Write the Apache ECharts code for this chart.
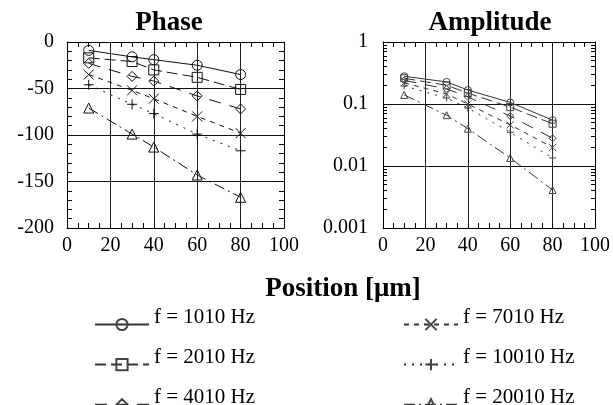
<!DOCTYPE html>
<html>
<head>
<meta charset="utf-8">
<script src="https://cdn.jsdelivr.net/npm/echarts@6/dist/echarts.min.js"></script>
<style>
  html, body { margin: 0; background: #fff; }
  #chart { width: 613px; height: 405px; }
</style>
</head>
<body>
<div id="chart"></div>
<script>
// measurement positions (µm)
const positions = [10, 30, 40, 60, 80];
const freqNames = ['f = 1010 Hz', 'f = 2010 Hz', 'f = 4010 Hz', 'f = 7010 Hz', 'f = 10010 Hz', 'f = 20010 Hz'];

// phase (deg), one list per frequency
const phase1010 = [-9, -16, -19, -25, -35];
const phase2010 = [-17, -21, -30, -38, -51];
const phase4010 = [-23, -37, -42, -58, -72];
const phase7010 = [-35, -52, -61, -80, -98];
const phase10010 = [-46, -67, -77, -99, -117];
const phase20010 = [-71, -99, -113, -143, -167];

// amplitude (normalised), one list per frequency
const amp1010 = [0.28, 0.227, 0.168, 0.106, 0.055];
const amp2010 = [0.26, 0.20, 0.15, 0.089, 0.048];
const amp4010 = [0.24, 0.175, 0.13, 0.064, 0.028];
const amp7010 = [0.22, 0.145, 0.10, 0.046, 0.020];
const amp10010 = [0.195, 0.125, 0.086, 0.035, 0.0135];
const amp20010 = [0.14, 0.066, 0.040, 0.0135, 0.0041];

const phaseTicks = [0, -50, -100, -150, -200];
const ampTicks = [1, 0.1, 0.01, 0.001];
const ampMinorTicks = [0.002, 0.003, 0.004, 0.005, 0.006, 0.007, 0.008, 0.009,
  0.02, 0.03, 0.04, 0.05, 0.06, 0.07, 0.08, 0.09,
  0.2, 0.3, 0.4, 0.5, 0.6, 0.7, 0.8, 0.9];

const phaseData = [phase1010, phase2010, phase4010, phase7010, phase10010, phase20010];
const ampData = [amp1010, amp2010, amp4010, amp7010, amp10010, amp20010];

const SERIF = "'Liberation Serif', 'DejaVu Serif', serif";
const CROSS = 'path://M0,0L10,10M10,0L0,10';
const PLUS = 'path://M5,0L5,10M0,5L10,5';
// marker + dash per frequency
const looks = [
  { symbol: 'circle', dash: 'solid' },
  { symbol: 'rect', dash: [11, 5] },
  { symbol: 'diamond', dash: [12, 9] },
  { symbol: CROSS, dash: [5, 5] },
  { symbol: PLUS, dash: [2, 6] },
  { symbol: 'triangle', dash: [11, 4, 2, 4] }
];

function pairs(ys) { return positions.map((x, i) => [x, ys[i]]); }

const series = [];
// amplitude first so the legend icons take its smaller markers
freqNames.forEach((name, k) => {
  series.push({
    name, type: 'line', xAxisIndex: 2, yAxisIndex: 2,
    data: pairs(ampData[k]),
    symbol: looks[k].symbol, symbolSize: 7, showSymbol: true,
    itemStyle: { color: 'transparent', borderColor: '#444', borderWidth: 1 },
    lineStyle: { color: '#333', width: 1, type: looks[k].dash },
    z: 3
  });
});
freqNames.forEach((name, k) => {
  series.push({
    name, type: 'line', xAxisIndex: 0, yAxisIndex: 0,
    data: pairs(phaseData[k]),
    symbol: looks[k].symbol, symbolSize: 10, showSymbol: true,
    itemStyle: { color: 'transparent', borderColor: '#111', borderWidth: 1 },
    lineStyle: { color: '#111', width: 1, type: looks[k].dash },
    z: 3
  });
});

function boxLine() { return { show: true, onZero: false, lineStyle: { color: '#000', width: 1 } }; }
function labelStyle(extra) { return Object.assign({ color: '#000', fontSize: 20, fontFamily: SERIF }, extra); }
function tickIn(len) { return { show: true, inside: true, length: len, lineStyle: { color: '#000', width: 1 } }; }
function minorIn(n) { return { show: true, splitNumber: n, length: 5, lineStyle: { color: '#000', width: 1 } }; }

function xAxes(grid) {
  return [
    {
      gridIndex: grid, type: 'value', position: 'bottom', min: 0, max: 100, interval: 20,
      axisLine: boxLine(), axisTick: tickIn(5), minorTick: minorIn(4),
      axisLabel: labelStyle({ margin: 8 }),
      splitLine: { show: true, lineStyle: { color: '#222', width: 1 } }
    },
    {
      gridIndex: grid, type: 'value', position: 'top', min: 0, max: 100, interval: 20,
      axisLine: boxLine(), axisTick: tickIn(5), minorTick: minorIn(4),
      axisLabel: { show: false }, splitLine: { show: false }
    }
  ];
}

function legendBlock(names, left) {
  return {
    data: names, orient: 'vertical', left, top: 307, height: 140, padding: 0,
    itemWidth: 54, itemHeight: 14, itemGap: 16, selectedMode: false,
    formatter: '{t|{name}}',
    textStyle: {
      color: '#000', fontSize: 21, fontFamily: SERIF,
      rich: { t: { fontSize: 21, fontFamily: SERIF, color: '#000', padding: [0, 0, 14, 0] } }
    }
  };
}

const option = {
  backgroundColor: '#fff',
  animation: false,
  grid: [
    { left: 67, top: 42, width: 217, height: 186 },
    { left: 383, top: 42, width: 221, height: 186 }
  ],
  xAxis: xAxes(0).concat(xAxes(1)),
  yAxis: [
    {
      gridIndex: 0, type: 'value', position: 'left', min: -200, max: 0, interval: 50,
      axisLine: boxLine(), axisTick: tickIn(5), minorTick: minorIn(5),
      axisLabel: labelStyle({ margin: 13, formatter: v => (phaseTicks.includes(v) ? String(v) : '') }),
      splitLine: { show: true, lineStyle: { color: '#111', width: 1 } }
    },
    {
      gridIndex: 0, type: 'value', position: 'right', min: -200, max: 0, interval: 50,
      axisLine: boxLine(), axisTick: tickIn(5), minorTick: minorIn(5),
      axisLabel: { show: false }, splitLine: { show: false }
    },
    {
      gridIndex: 1, type: 'log', logBase: 10, position: 'left', min: 0.001, max: 1,
      axisLine: boxLine(), axisTick: tickIn(6),
      axisLabel: labelStyle({ margin: 15, formatter: v => (ampTicks.some(t => Math.abs(t - v) < v * 1e-6) ? String(v) : '') }),
      splitLine: { show: true, lineStyle: { color: '#111', width: 1 } }
    },
    {
      gridIndex: 1, type: 'log', logBase: 10, position: 'left', min: 0.001, max: 1,
      axisLine: { show: false, onZero: false },
      axisTick: Object.assign(tickIn(4), { customValues: ampMinorTicks }),
      axisLabel: { show: false }, splitLine: { show: false }
    },
    {
      gridIndex: 1, type: 'log', logBase: 10, position: 'right', min: 0.001, max: 1,
      axisLine: boxLine(),
      axisTick: Object.assign(tickIn(4), { customValues: ampMinorTicks }),
      axisLabel: { show: false }, splitLine: { show: false }
    }
  ],
  legend: [legendBlock(freqNames.slice(0, 3), 94), legendBlock(freqNames.slice(3), 403)],
  graphic: [
    { type: 'text', x: 169, y: 23, style: { text: 'Phase', textAlign: 'center', textVerticalAlign: 'middle', font: "bold 27px 'Liberation Serif'", fill: '#000' } },
    { type: 'text', x: 490, y: 23, style: { text: 'Amplitude', textAlign: 'center', textVerticalAlign: 'middle', font: "bold 27px 'Liberation Serif'", fill: '#000' } },
    { type: 'text', x: 343, y: 289, style: { text: 'Position [\u03bcm]', textAlign: 'center', textVerticalAlign: 'middle', font: "bold 27px 'Liberation Serif'", fill: '#000' } }
  ],
  series
};

const chart = echarts.init(document.getElementById('chart'), null, { renderer: 'canvas' });
chart.setOption(option);
</script>
</body>
</html>
